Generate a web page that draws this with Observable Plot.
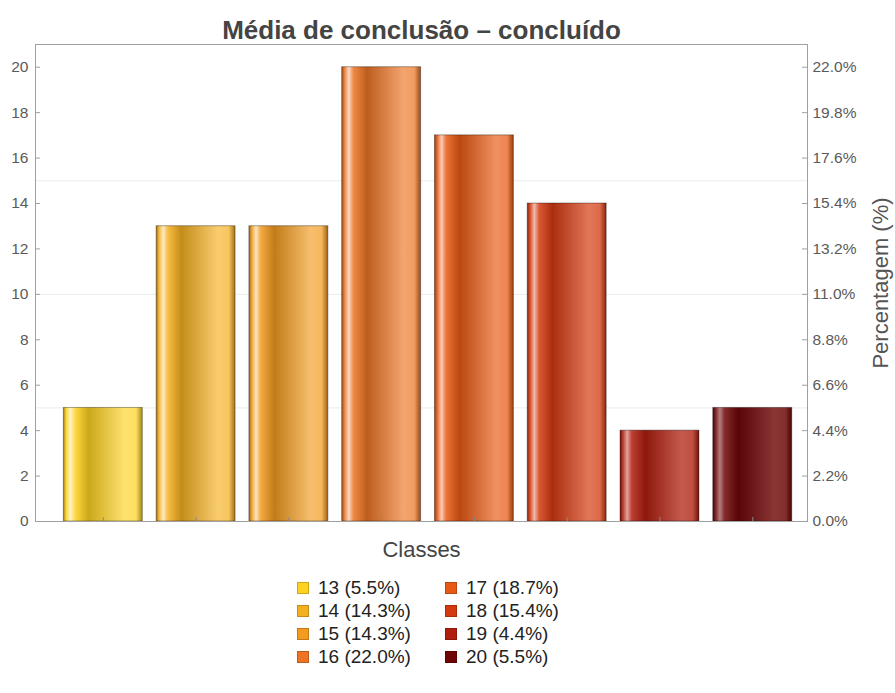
<!DOCTYPE html>
<html><head><meta charset="utf-8">
<script src="https://cdn.jsdelivr.net/npm/d3@7"></script>
<script src="https://cdn.jsdelivr.net/npm/@observablehq/plot@0.6"></script>
<style>
body{margin:0;background:#fff;font-family:"Liberation Sans",Arial,sans-serif;}
#legend{display:grid;grid-auto-flow:column;grid-template-rows:repeat(4,23px);grid-template-columns:148px 160px;margin-left:297px;padding-top:11px;}
.item{display:flex;align-items:center;height:23px;font-size:19px;color:#222;white-space:nowrap;}
.sw{width:12px;height:12px;margin-right:9px;box-sizing:border-box;border:1px solid rgba(0,0,0,0.2);}
</style></head><body><div id="chart"></div><div id="legend"></div>
<script>
const titleText = "Média de conclusão – concluído";
const classes = ["13","14","15","16","17","18","19","20"];
const counts = [5, 13, 13, 20, 17, 14, 4, 5];
const colors = ["#FFD21F","#F5B021","#F29B1F","#EC7424","#E85A14","#D43A10","#B01E0E","#6E0606"];
const yTicks = [0,2,4,6,8,10,12,14,16,18,20];
const pctLabels = ["0.0%","2.2%","4.4%","6.6%","8.8%","11.0%","13.2%","15.4%","17.6%","19.8%","22.0%"];
const gridValues = [5,10,15];

const total = d3.sum(counts);
const data = classes.map((c,i)=>({cls:c, n:counts[i]}));

const plot = Plot.plot({
  width: 895, height: 565,
  marginLeft: 35, marginRight: 88, marginTop: 44, marginBottom: 44,
  style: {fontFamily: "Liberation Sans, Arial, sans-serif", fontSize: "15.5px", color: "#5a5a5a", background: "#fff"},
  x: {domain: classes, paddingInner: 0.149, paddingOuter: 0.235, align: 0.65, round: false, axis: null},
  y: {domain: [0, 21], axis: null},
  color: {domain: classes, range: colors},
  marks: [
    Plot.ruleY(gridValues, {stroke: "#ebebeb"}),
    Plot.barY(data, {x: "cls", y: "n", fill: "cls", stroke: "#000", strokeOpacity: 0.35, strokeWidth: 1}),
    Plot.frame({stroke: "#a0a0a0"}),
    Plot.tickY(yTicks, {y: d => d, stroke: "#a0a0a0", insetRight: 767}),
    Plot.tickY(yTicks, {y: d => d, stroke: "#a0a0a0", insetLeft: 767}),
    Plot.tickX(classes, {x: d => d, stroke: "#888", insetTop: 473}),
    Plot.axisY(yTicks, {anchor: "left", tickSize: 0, tickPadding: 7, label: null}),
    Plot.axisY(yTicks, {anchor: "right", tickSize: 0, tickPadding: 5, label: null, tickFormat: d => pctLabels[yTicks.indexOf(d)]}),
    Plot.text([titleText], {frameAnchor: "top", dy: -14, lineAnchor: "middle", fontSize: 26, fontWeight: "bold", fill: "#444"}),
    Plot.text(["Classes"], {frameAnchor: "bottom", dy: 28, lineAnchor: "middle", fontSize: 22, fill: "#444"}),
    Plot.text(["Percentagem (%)"], {frameAnchor: "right", dx: 73, rotate: -90, textAnchor: "middle", lineAnchor: "middle", fontSize: 22, fill: "#555"})
  ]
});

// glassy gradients per bar
const svg = d3.select(plot);
const defs = svg.insert("defs", ":first-child");
const mix = (a, b, t) => d3.interpolateRgb(a, b)(t);
colors.forEach((c, i) => {
  const L = d3.hsl(c).l;
  const hi = 0.3 + 0.8 * L;
  const lt = 0.08 + 0.5 * L;
  const stops = [
    [0, mix(c, "#000", 0.35)],
    [0.04, mix(c, "#fff", 0.15)],
    [0.09, mix(c, "#fff", hi)],
    [0.15, mix(c, "#fff", 0.15)],
    [0.32, mix(c, "#000", 0.2)],
    [0.78, mix(c, "#fff", lt)],
    [0.92, mix(c, "#fff", lt * 0.8)],
    [1, mix(c, "#000", 0.35)]
  ];
  const g = defs.append("linearGradient").attr("id", "g" + i).attr("x1", 0).attr("x2", 1).attr("y1", 0).attr("y2", 0);
  stops.forEach(([o, col]) => g.append("stop").attr("offset", o).attr("stop-color", col));
});
svg.selectAll("g[aria-label='bar'] rect").each(function(d, i) {
  this.setAttribute("fill", `url(#g${i})`);
});

document.getElementById("chart").appendChild(plot);

const legend = d3.select("#legend");
classes.forEach((c, i) => {
  const it = legend.append("div").attr("class", "item");
  it.append("div").attr("class", "sw").style("background", colors[i]);
  it.append("span").text(`${c} (${(counts[i] / total * 100).toFixed(1)}%)`);
});
</script></body></html>
